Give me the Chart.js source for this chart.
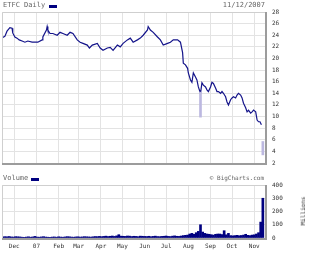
<!DOCTYPE html>
<html><head><meta charset="utf-8">
<script src="https://cdn.jsdelivr.net/npm/chart.js@4"></script>
<style>
html,body{margin:0;padding:0;background:#fff;width:320px;height:259px;overflow:hidden;}
#wrap{position:relative;width:320px;height:259px;}
canvas{position:absolute;left:0;}
.t{position:absolute;font-family:"DejaVu Sans Mono",monospace;font-size:7px;color:#666;white-space:nowrap;line-height:1;}
.mk{position:absolute;background:#000080;}
</style></head><body>
<div id="wrap">
<canvas id="c1" width="320" height="175" style="top:0;width:320px;height:175px"></canvas>
<canvas id="c2" width="320" height="89" style="top:170px;width:320px;height:89px"></canvas>
<div class="t" style="left:3px;top:2px;">ETFC Daily</div>
<div class="mk" style="left:49px;top:5px;width:8px;height:3px"></div>
<div class="t" style="right:55px;top:2px;">11/12/2007</div>
<div class="t" style="left:3px;top:175px;">Volume</div>
<div class="mk" style="left:31px;top:178px;width:8px;height:3px"></div>
<div class="t" style="right:56px;top:175px;font-size:6px">© BigCharts.com</div>
<div class="t" style="left:303px;top:211px;transform:translate(-50%,-50%) rotate(-90deg);font-size:6px;color:#333">Millions</div>
</div>
<script>
// days counted from 2006-11-13
const monthDays   = [18, 49, 80, 108, 139, 169, 200, 230, 261, 292, 322, 353];
const monthLabels = ['Dec','07','Feb','Mar','Apr','May','Jun','Jul','Aug','Sep','Oct','Nov'];
const priceTicks  = [2,4,6,8,10,12,14,16,18,20,22,24,26,28];
const volTicks    = [0,100,200,300,400];

const priceDays = [2,5,8,12,15,16,19,22,25,29,33,37,43,47,51,57,58,63,64,65,68,72,78,82,86,92,96,100,106,110,114,120,123,127,134,138,142,148,152,156,162,166,170,176,180,184,190,194,198,204,205,208,212,218,222,226,232,236,240,246,250,253,254,257,260,261,264,266,268,271,273,275,278,280,282,285,287,289,292,294,296,299,301,303,306,308,310,313,315,317,320,322,324,327,329,331,334,336,338,341,343,345,348,350,352,355,357,359,361,363];
const prices    = [23.6,23.8,24.7,25.3,25.2,24.4,23.7,23.5,23.2,23.0,22.8,23.0,22.8,22.8,22.8,23.2,23.7,24.9,25.5,24.9,24.3,24.3,24.0,24.5,24.3,24.0,24.5,24.3,23.2,22.8,22.6,22.3,21.8,22.3,22.6,21.8,21.4,21.8,21.9,21.4,22.3,22.0,22.6,23.2,23.5,22.8,23.2,23.5,24.0,24.9,25.5,24.9,24.5,23.7,23.2,22.3,22.6,22.8,23.2,23.2,22.8,21.0,19.2,18.9,18.3,17.5,16.3,15.9,17.5,16.8,16.3,15.1,14.0,15.8,15.4,15.1,14.6,14.3,15.1,15.9,15.7,14.9,14.3,14.3,14.0,14.3,14.0,13.4,12.5,12.0,12.9,13.2,13.4,13.2,13.7,14.0,13.7,13.2,12.3,11.5,10.8,11.1,10.6,10.8,11.1,10.8,9.4,9.1,9.1,8.6];

// intraday ranges drawn lighter
const rangeDays = [278, 365];
const rangeHigh = [14.2, 5.7];
const rangeLow  = [9.9, 3.4];

const volDays = [2,5,8,11,14,17,20,23,26,29,32,35,38,41,44,47,50,53,56,59,62,65,68,71,74,77,80,83,86,89,92,95,98,101,104,107,110,113,116,119,122,125,128,131,134,137,140,143,146,149,152,155,158,161,164,167,170,173,176,179,182,185,188,191,194,197,200,203,206,209,212,215,218,221,224,227,230,233,236,239,242,245,248,251,254,257,260,263,266,269,272,275,278,281,284,287,290,293,296,299,302,305,308,311,314,317,320,323,326,329,332,335,338,341,344,347,350,353,356,359,362,365];
const volumes = [8,10,9,11,8,7,10,9,8,6,5,7,9,6,8,12,
 7,6,8,10,7,6,5,7,8,6,9,7,6,8,10,9,7,6,8,9,7,8,10,9,8,7,9,11,10,12,
 10,12,14,11,13,15,12,16,25,14,13,12,15,14,11,13,12,10,14,13,
 12,11,13,10,12,14,11,10,12,13,15,12,11,14,16,13,12,15,18,20,22,
 30,35,28,40,50,100,45,35,30,28,
 25,22,28,30,30,26,55,24,35,18,
 16,18,20,17,19,22,28,20,18,22,24,
 30,40,120,300];

const XMIN = 1, XMAX = 368;
const tickFont = {family:'DejaVu Sans Mono', size:6};
const gridCol = '#e3e3e3';

const framePlugin = {id:'frame', afterDraw(chart){
  const {ctx, chartArea:a} = chart;
  ctx.save();
  ctx.strokeStyle='#cfcfcf'; ctx.lineWidth=1;
  ctx.beginPath(); ctx.moveTo(a.left+0.5, a.bottom); ctx.lineTo(a.left+0.5, a.top+0.5); ctx.lineTo(a.right, a.top+0.5); ctx.stroke();
  ctx.strokeStyle='#9c9c9c'; ctx.lineWidth=2;
  ctx.beginPath(); ctx.moveTo(a.left, a.bottom+1); ctx.lineTo(a.right+1, a.bottom+1); ctx.lineTo(a.right+1, a.top); ctx.stroke();
  ctx.restore();
}};

const xCommon = (showLabels, h) => ({
  type:'linear', min:XMIN, max:XMAX, offset:false,
  afterBuildTicks: s => { s.ticks = monthDays.map(v => ({value:v})); },
  ticks:{display:showLabels, autoSkip:false, maxRotation:0, color:'#333', font:tickFont, padding:5,
         callback:(v,i) => monthLabels[i]},
  grid:{color:gridCol, drawTicks:false, offset:false},
  border:{display:false},
  afterFit: s => { s.height = h; }
});

new Chart(document.getElementById('c1'), {
  type:'line',
  data:{datasets:[
    {type:'bar', data: rangeDays.map((d,i)=>({x:d, y:[rangeLow[i], rangeHigh[i]]})),
     backgroundColor:'#bcb8e0', barThickness:2},
    {type:'line', data: priceDays.map((d,i)=>({x:d, y:prices[i]})),
     borderColor:'#14148a', borderWidth:1.2, pointRadius:0, tension:0}
  ]},
  options:{responsive:false, animation:false, devicePixelRatio:1,
    layout:{padding:{left:2, top:12, bottom:12, right:0}},
    plugins:{legend:{display:false}, tooltip:{enabled:false}},
    scales:{
      x: xCommon(false, 0),
      y:{position:'right', min:2, max:28,
         afterBuildTicks: s => { s.ticks = priceTicks.map(v => ({value:v})); },
         ticks:{color:'#333', font:tickFont, padding:7},
         grid:{color:gridCol, drawTicks:false}, border:{display:false},
         afterFit: s => { s.width = 55; }}
    }
  },
  plugins:[framePlugin]
});

new Chart(document.getElementById('c2'), {
  type:'bar',
  data:{datasets:[
    {data: volDays.map((d,i)=>({x:d, y:volumes[i]})), backgroundColor:'#000080', barThickness:2}
  ]},
  options:{responsive:false, animation:false, devicePixelRatio:1,
    layout:{padding:{left:2, top:15, bottom:0, right:0}},
    plugins:{legend:{display:false}, tooltip:{enabled:false}},
    scales:{
      x: xCommon(true, 21),
      y:{position:'right', min:0, max:400,
         afterBuildTicks: s => { s.ticks = volTicks.map(v => ({value:v})); },
         ticks:{color:'#333', font:tickFont, padding:7},
         grid:{color:gridCol, drawTicks:false}, border:{display:false},
         afterFit: s => { s.width = 55; }}
    }
  },
  plugins:[framePlugin]
});
</script>
</body></html>
